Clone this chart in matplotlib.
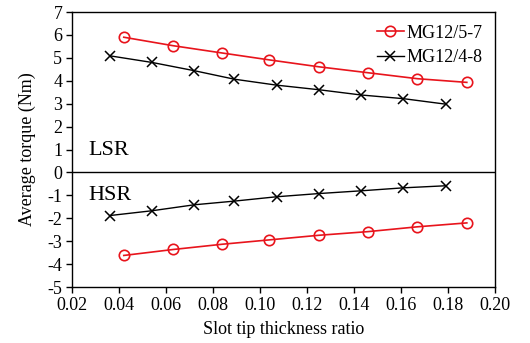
import numpy as np
import matplotlib.pyplot as plt

plt.rcParams['font.family'] = ['Liberation Serif', 'DejaVu Serif']
plt.rcParams['axes.unicode_minus'] = False

# MG12/5-7 (red circles)
x_57 = [0.042, 0.063, 0.084, 0.104, 0.125, 0.146, 0.167, 0.188]
lsr_57 = [5.90, 5.53, 5.21, 4.91, 4.61, 4.35, 4.09, 3.93]
hsr_57 = [-3.62, -3.36, -3.13, -2.94, -2.74, -2.58, -2.37, -2.20]

# MG12/4-8 (black crosses)
x_48 = [0.036, 0.054, 0.072, 0.089, 0.107, 0.125, 0.143, 0.161, 0.179]
lsr_48 = [5.09, 4.80, 4.44, 4.07, 3.81, 3.61, 3.38, 3.22, 2.98]
hsr_48 = [-1.88, -1.67, -1.41, -1.25, -1.06, -0.92, -0.80, -0.67, -0.58]

fig, ax = plt.subplots(figsize=(5.3, 3.43), dpi=100)
fig.subplots_adjust(left=0.136, right=0.934, top=0.965, bottom=0.163)

ax.plot(x_57, lsr_57, color='#e8141c', marker='o', mfc='none', ms=7.5, mew=1.2, lw=1.2,
        label='MG12/5-7')
ax.plot(x_48, lsr_48, color='black', marker='x', ms=6.5, mew=1.1, lw=1.0, label='MG12/4-8')
ax.plot(x_57, hsr_57, color='#e8141c', marker='o', mfc='none', ms=7.5, mew=1.2, lw=1.2)
ax.plot(x_48, hsr_48, color='black', marker='x', ms=6.5, mew=1.1, lw=1.0)

ax.axhline(0, color='black', lw=1.0)
ax.set_xlim(0.02, 0.20)
ax.set_ylim(-5, 7)
ax.set_xticks(np.arange(0.02, 0.201, 0.02))
ax.set_xticklabels([f'{v:.2f}' for v in np.arange(0.02, 0.201, 0.02)])
ax.set_yticks(range(-5, 8))
ax.tick_params(labelsize=13, direction='out', length=4, width=1, pad=3)
ax.tick_params(top=False, right=False)
for s in ax.spines.values():
    s.set_linewidth(1.0)

ax.set_xlabel('Slot tip thickness ratio', fontsize=13, labelpad=5)
ax.set_ylabel('Average torque (Nm)', fontsize=13, labelpad=8)

ax.text(0.027, 0.95, 'LSR', fontsize=16, va='center')
ax.text(0.027, -1.0, 'HSR', fontsize=16, va='center')

ax.legend(loc='upper right', frameon=False, fontsize=13, handlelength=1.5,
          handletextpad=0.15, labelspacing=0.4, borderaxespad=0.3)

fig.savefig('out.png', dpi=100)
